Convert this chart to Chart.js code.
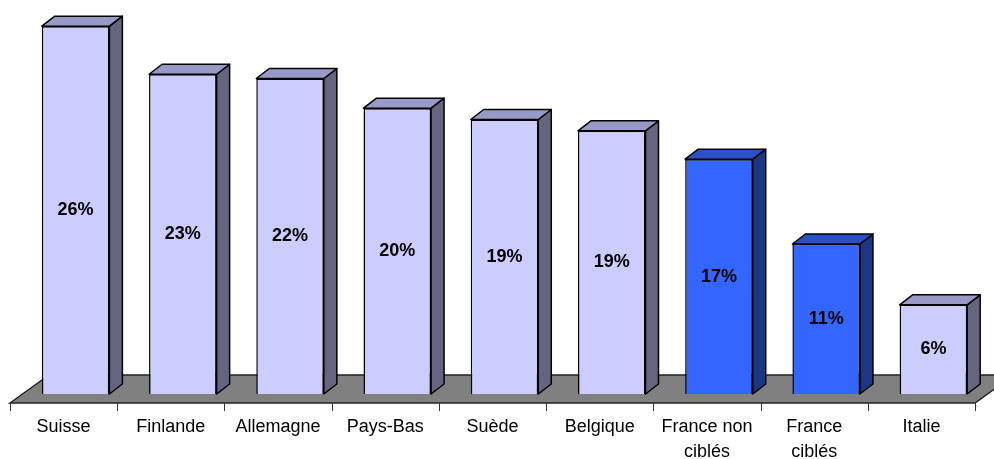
<!DOCTYPE html>
<html>
<head>
<meta charset="utf-8">
<script src="https://cdn.jsdelivr.net/npm/chart.js@4"></script>
<style>
  html, body { margin: 0; padding: 0; background: #fff; }
  #wrap { width: 994px; height: 459px; position: relative; }
</style>
</head>
<body>
<div id="wrap"><canvas id="chart"></canvas></div>
<script>
// --- données ---
const pays = ['Suisse', 'Finlande', 'Allemagne', 'Pays-Bas', 'Suède', 'Belgique', ['France non', 'ciblés'], ['France', 'ciblés'], 'Italie'];
const valeurs = [26.0, 22.6, 22.3, 20.2, 19.4, 18.6, 16.6, 10.6, 6.3];

// --- couleurs ---
const clair = { face: '#CCCCFF', cote: '#65657F', dessus: '#9999C8' };
const bleu = { face: '#3366FF', cote: '#1C3585', dessus: '#2A50C8' };
const palette = pays.map(p => (Array.isArray(p) && p[0].startsWith('France')) ? bleu : clair);

// profondeur 3D
const DX = 13, DY = 10;       // barres
const FDX = 39, FDY = 28;     // sol
const SHIFT = 12;             // décalage barre / bord avant du sol

function poly(ctx, pts, fill) {
  ctx.beginPath();
  ctx.moveTo(pts[0][0], pts[0][1]);
  pts.slice(1).forEach(p => ctx.lineTo(p[0], p[1]));
  ctx.closePath();
  ctx.fillStyle = fill;
  ctx.fill();
  ctx.stroke();
}

const effet3d = {
  id: 'effet3d',
  beforeDatasetsDraw(chart) {
    const { ctx, chartArea } = chart;
    const meta = chart.getDatasetMeta(0);
    const base = meta.data[0].base;
    const yFront = base + 9;
    const x0 = chartArea.left - SHIFT, x1 = chartArea.right - SHIFT;
    ctx.save();
    // sol
    ctx.strokeStyle = '#222';
    ctx.lineWidth = 1.5;
    poly(ctx, [[x0, yFront], [x0 + FDX, yFront - FDY], [x1 + FDX, yFront - FDY], [x1, yFront]], '#808080');
    // graduations
    const step = (chartArea.right - chartArea.left) / pays.length;
    ctx.lineWidth = 1;
    ctx.strokeStyle = '#333';
    for (let i = 0; i <= pays.length; i++) {
      const x = Math.round(x0 + i * step) + 0.5;
      ctx.beginPath();
      ctx.moveTo(x, yFront);
      ctx.lineTo(x, yFront + 8);
      ctx.stroke();
    }
    // côtés et dessus des barres
    ctx.strokeStyle = '#000';
    ctx.lineWidth = 1.5;
    ctx.lineJoin = 'round';
    meta.data.forEach((el, i) => {
      const { x, y, base, width } = el.getProps(['x', 'y', 'base', 'width'], true);
      const l = x - width / 2, r = x + width / 2;
      poly(ctx, [[r, y], [r + DX, y - DY], [r + DX, base - DY], [r, base]], palette[i].cote);
      poly(ctx, [[l, y], [l + DX, y - DY], [r + DX, y - DY], [r, y]], palette[i].dessus);
    });
    ctx.restore();
  },
  afterDatasetsDraw(chart) {
    const { ctx } = chart;
    const meta = chart.getDatasetMeta(0);
    ctx.save();
    ctx.font = 'bold 18px "Liberation Sans", Arial, sans-serif';
    ctx.fillStyle = '#000';
    ctx.textAlign = 'center';
    ctx.textBaseline = 'middle';
    meta.data.forEach((el, i) => {
      const { x, y, base } = el.getProps(['x', 'y', 'base'], true);
      ctx.fillText(Math.round(valeurs[i]) + '%', x, (y + base) / 2);
    });
    ctx.restore();
  }
};

new Chart(document.getElementById('chart'), {
  type: 'bar',
  data: {
    labels: pays,
    datasets: [{
      data: valeurs,
      backgroundColor: palette.map(c => c.face),
      borderColor: '#000',
      borderWidth: 1.5,
      barPercentage: 0.63,
      categoryPercentage: 1
    }]
  },
  options: {
    responsive: true,
    maintainAspectRatio: false,
    animation: false,
    layout: { padding: { left: 22, right: 7, top: 12, bottom: 0 } },
    plugins: { legend: { display: false }, tooltip: { enabled: false } },
    scales: {
      x: {
        grid: { display: false, drawTicks: false },
        border: { display: false },
        ticks: {
          color: '#000',
          padding: 20,
          labelOffset: -SHIFT,
          maxRotation: 0,
          autoSkip: false,
          font: { family: '"Liberation Sans", Arial, sans-serif', size: 18, lineHeight: 1.4 }
        },
        afterFit: s => { s.height = 65; }
      },
      y: {
        display: false,
        min: 0,
        max: 27
      }
    }
  },
  plugins: [effet3d]
});
</script>
</body>
</html>
